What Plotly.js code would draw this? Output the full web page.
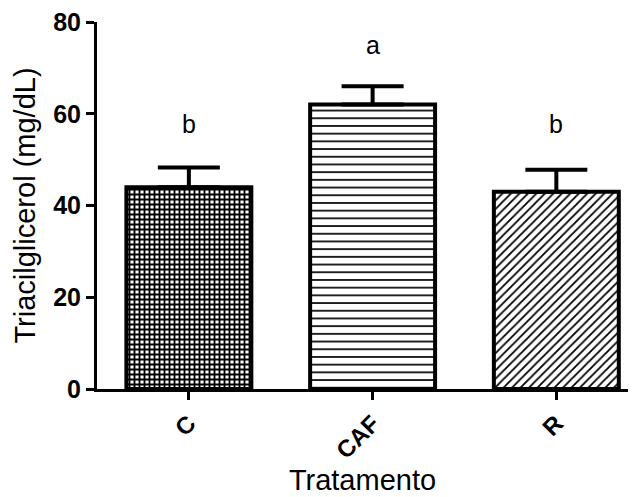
<!DOCTYPE html>
<html>
<head>
<meta charset="utf-8">
<script src="https://cdn.plot.ly/plotly-3.0.1.min.js"></script>
<style>html,body{margin:0;padding:0;background:#fff;}#chart{width:638px;height:497px;}</style>
</head>
<body>
<div id="chart"></div>
<script>
var categories = ["C", "CAF", "R"];
var means = [44, 62, 43];
var sem = [4.3, 4.0, 4.8];
var letters = ["b", "a", "b"];
var letterY = [57.7, 74.9, 57.7];
var yTicks = [0, 20, 40, 60, 80];

var patterns = ["+", "-", "/"];
var psize = [5, 7.7, 6];
var psol = [0.6, 0.22, 0.3];

var traces = categories.map(function (c, i) {
  return {
    type: "bar",
    x: [i],
    y: [means[i]],
    width: 0.68,
    marker: {
      color: "white",
      line: { color: "black", width: 4 },
      pattern: { shape: patterns[i], fgcolor: "black", bgcolor: "white", size: psize[i], solidity: psol[i], fillmode: "replace" }
    },
    error_y: { type: "data", array: [sem[i]], arrayminus: [0], symmetric: false, color: "black", thickness: 4, width: 31 },
    showlegend: false,
    hoverinfo: "skip"
  };
});

var annotations = letters.map(function (t, i) {
  return { x: i, y: letterY[i], xref: "x", yref: "y", text: t, showarrow: false,
    font: { family: "Liberation Sans, Arial, sans-serif", size: 25, color: "black" } };
});

var layout = {
  width: 638, height: 497,
  margin: { l: 97, r: 10, t: 22, b: 108 },
  paper_bgcolor: "white", plot_bgcolor: "white",
  barmode: "overlay",
  font: { family: "Liberation Sans, Arial, sans-serif", color: "black" },
  xaxis: {
    range: [-0.5, 2.39],
    tickmode: "array", tickvals: [0, 1, 2], ticktext: categories,
    tickangle: -45,
    tickfont: { family: "Liberation Sans, Arial, sans-serif", size: 24, weight: 700, color: "black" },
    ticks: "outside", ticklen: 8, tickwidth: 3, tickcolor: "black",
    showline: true, linewidth: 3, linecolor: "black",
    showgrid: false, zeroline: false,
    title: { text: "Tratamento", font: { size: 29, color: "black" }, standoff: 5 }
  },
  yaxis: {
    range: [0, 80],
    tickmode: "array", tickvals: yTicks, ticktext: yTicks.map(String),
    tickfont: { family: "Liberation Sans, Arial, sans-serif", size: 25, weight: 700, color: "black" },
    ticks: "outside", ticklen: 8, tickwidth: 3, tickcolor: "black",
    showline: true, linewidth: 3, linecolor: "black",
    showgrid: false, zeroline: false,
    title: { text: "Triacilglicerol (mg/dL)", font: { size: 29, color: "black" }, standoff: 10 }
  },
  annotations: annotations
};

Plotly.newPlot("chart", traces, layout, { displayModeBar: false, staticPlot: true });
</script>
</body>
</html>
